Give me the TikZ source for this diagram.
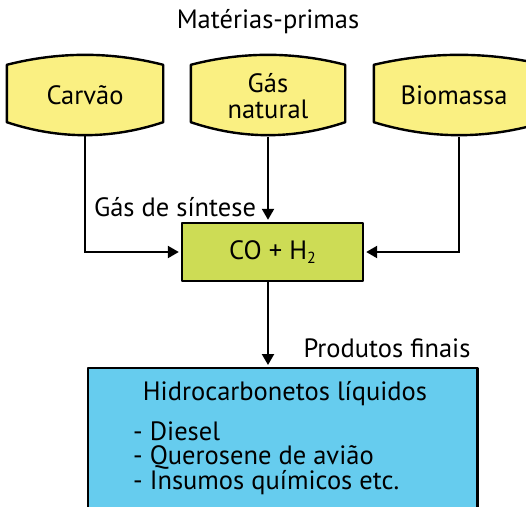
\documentclass[tikz,border=0pt]{standalone}
\usepackage{fontspec}
\setmainfont{PT Sans}
\usetikzlibrary{arrows.meta,calc}
\definecolor{rawyellow}{RGB}{250,240,130}
\definecolor{syngreen}{RGB}{205,220,85}
\definecolor{prodblue}{RGB}{102,204,238}
\newcommand\bulgeshape[1]{%
  \draw[boxline,fill=rawyellow]
    (#1.north west)
    .. controls ($(#1.north west)!0.3333!(#1.north east)+(0,-13.3)$) and ($(#1.north west)!0.6667!(#1.north east)+(0,-13.3)$) .. (#1.north east)
    -- (#1.south east)
    .. controls ($(#1.south west)!0.6667!(#1.south east)+(0,17.3)$) and ($(#1.south west)!0.3333!(#1.south east)+(0,17.3)$) .. (#1.south west)
    -- cycle;}
\begin{document}
\begin{tikzpicture}[x=1pt,y=-1pt,
  txt/.style={font=\fontsize{26.5}{26}\selectfont},
  rawbox/.style={minimum width=#1,minimum height=57pt,inner sep=0pt},
  boxline/.style={draw=black,line width=2.4pt,line join=round},
  arr/.style={draw=black,line width=2.2pt,-{Triangle[length=11pt,width=12pt]},shorten >=3pt},
  label/.style={txt,inner sep=0pt}]
\useasboundingbox (0,0) rectangle (526,506);
\clip (0,0) rectangle (526,506);
% nodes
\node[rawbox=156pt] (carvao) at (85,93.5) {};
\node[rawbox=154pt] (gas) at (268,93.5) {};
\node[rawbox=170pt] (bio) at (459,93.5) {};
\node[minimum width=181pt,minimum height=58pt,inner sep=0pt] (co) at (272.5,252) {};
\node[minimum width=389pt,minimum height=160pt,inner sep=0pt,anchor=north west] (hidro) at (88,368) {};
% connectors
\draw[arr] ([yshift=-13pt]carvao.south) |- (co.west);
\draw[arr] ([yshift=-15pt]gas.south) -- (gas.south |- co.north);
\draw[arr] ([yshift=-15pt]bio.south) |- (co.east);
\draw[arr] (gas.south |- co.south) -- (gas.south |- hidro.north);
% shapes
\bulgeshape{carvao}
\bulgeshape{gas}
\bulgeshape{bio}
\draw[boxline,fill=syngreen] (co.north west) rectangle (co.south east);
\draw[boxline,fill=prodblue] (hidro.north west) rectangle (hidro.south east);
% texts
\node[label] (tcarvao) at ([yshift=-2pt]carvao.center) {Carvão};
\node[label,align=center] (tgas) at ([yshift=-3pt]gas.center) {Gás\\natural};
\node[label] (tbio) at ([xshift=-5pt,yshift=-2pt]bio.center) {Biomassa};
\node[label] (tco) at (co.center) {CO + H{\fontsize{16}{16}\selectfont\raisebox{-4pt}{2}}};
\node[label,anchor=base] (ttitle) at (285,400) {Hidrocarbonetos líquidos};
\node[label,anchor=base west] (tl1) at (133,440) {- Diesel};
\node[label,anchor=base west] (tl2) at (133,464.5) {- Querosene de avião};
\node[label,anchor=base west] (tl3) at (133,489) {- Insumos químicos etc.};
\node[label,anchor=base] (tmat) at (268,28) {Matérias-primas};
\node[label,anchor=base] (tgds) at (175,216) {Gás de síntese};
\node[label,anchor=base] (tprod) at (387,357) {Produtos finais};
\end{tikzpicture}
\end{document}
